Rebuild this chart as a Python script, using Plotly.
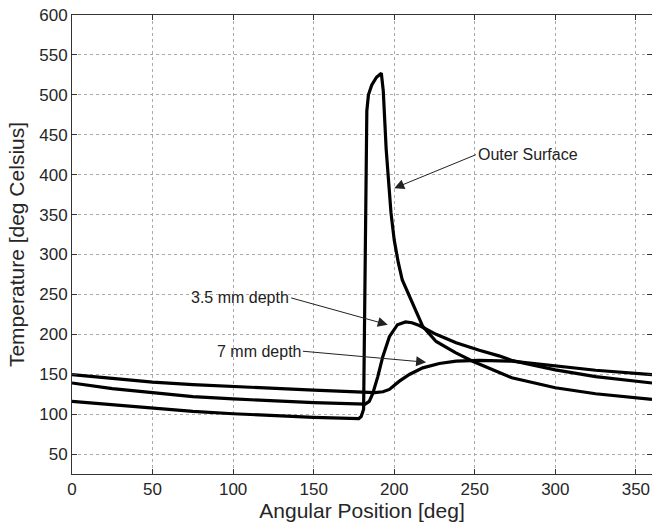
import plotly.graph_objects as go

# Outer surface
angle_outer = [0, 25, 50, 75, 100, 125, 150, 178, 179.5, 181, 182, 183, 184, 186, 189, 192,
               193.2, 194, 195, 196.5, 198, 200, 202.5, 205, 210.5, 217.7, 226, 238, 249, 265, 273,
               300, 325, 360]
temp_outer = [116, 111.5, 107.5, 103.5, 100.5, 98, 96, 94.5, 97, 106, 300, 480, 500, 512, 522, 527,
              505, 470, 432, 392, 352, 318, 290, 268, 242, 210, 191, 177, 166, 152, 145.5,
              133, 125.5, 118.5]

# 3.5 mm depth
angle_35 = [0, 25, 50, 75, 100, 125, 150, 182, 184.5, 186.7, 189.8, 192.9, 197, 202, 207, 211,
            215.6, 226, 238.4, 252.8, 265, 273.4, 300, 325, 360]
temp_35 = [139, 132, 127, 122, 119, 116.5, 114.5, 112.5, 116, 126, 147, 172, 197, 212, 215.5, 214.5,
           211, 200, 189.5, 180, 173, 167, 155.5, 147, 139]

# 7 mm depth
angle_7 = [0, 25, 50, 75, 100, 125, 150, 180.5, 188, 193, 197, 203, 209.4, 217.7, 228, 238.4,
           252.8, 273, 300, 325, 360]
temp_7 = [149.5, 144.5, 140, 137, 134.5, 132, 130, 127.5, 127, 128, 131, 141, 149.7, 158, 163.4, 166.3,
          167.3, 166.3, 160.5, 155, 149.5]

x_ticks = [0, 50, 100, 150, 200, 250, 300, 350]
y_ticks = [50, 100, 150, 200, 250, 300, 350, 400, 450, 500, 550, 600]

fig = go.Figure()
for xs, ys in [(angle_outer, temp_outer), (angle_35, temp_35), (angle_7, temp_7)]:
    fig.add_trace(go.Scatter(x=xs, y=ys, mode="lines",
                             line=dict(color="black", width=3.2), showlegend=False))

font = "Liberation Sans, Arial, sans-serif"
ann_style = dict(showarrow=True, arrowhead=2, arrowsize=2, arrowwidth=1,
                 arrowcolor="#222222", axref="x", ayref="y",
                 font=dict(family=font, size=16, color="#222222"))

fig.add_annotation(x=200, y=383, ax=250.7, ay=425, text="Outer Surface",
                   xanchor="left", **ann_style)
fig.add_annotation(x=196, y=212, ax=136, ay=245.6, text="3.5 mm depth",
                   xanchor="right", **ann_style)
fig.add_annotation(x=219.8, y=165, ax=143.3, ay=178.8, text="7 mm depth",
                   xanchor="right", **ann_style)

axis_common = dict(showline=True, linecolor="#333333", linewidth=1, mirror="ticks",
                   ticks="inside", ticklen=5, tickcolor="#333333",
                   showgrid=True, gridcolor="#aaaaaa", griddash="dot", gridwidth=1,
                   zeroline=False, automargin=False, ticklabeloverflow="allow",
                   tickfont=dict(family=font, size=17, color="#262626"),
                   title_font=dict(family=font, size=21, color="#262626"))

fig.update_xaxes(range=[0, 360], tickvals=x_ticks, title_text="Angular Position [deg]",
                 title_standoff=4, **axis_common)
fig.update_yaxes(range=[25, 600], tickvals=y_ticks, title_text="Temperature [deg Celsius]",
                 title_standoff=8, **axis_common)

fig.update_layout(width=652, height=527, margin=dict(l=72, r=0, t=15, b=53),
                  paper_bgcolor="white", plot_bgcolor="white")

# remove the default 8px page margin so the figure fills the window exactly
fig.write_html("out.html", config={"displayModeBar": False},
               post_script="document.body.style.margin='0';document.body.style.overflow='hidden';")
